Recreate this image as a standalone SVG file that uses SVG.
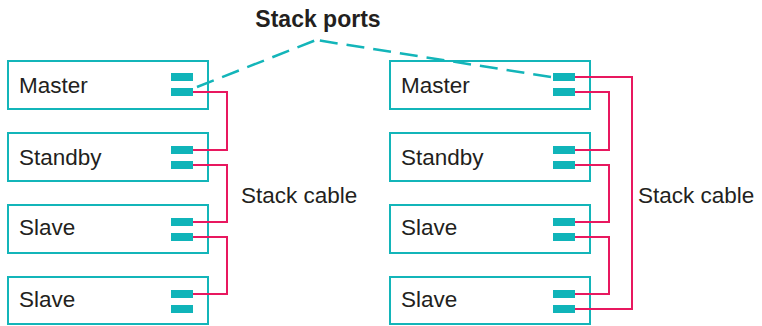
<svg xmlns="http://www.w3.org/2000/svg" width="762" height="326" viewBox="0 0 762 326">
<style>
.box{fill:#fff;stroke:#13b5b9;stroke-width:2}
.port{fill:#10b4b9}
.lbl{font-family:"Liberation Sans",Arial,sans-serif;font-size:22.5px;fill:#231f20}
.title{font-family:"Liberation Sans",Arial,sans-serif;font-size:23px;font-weight:bold;fill:#231f20}
.cable{fill:none;stroke:#e8185f;stroke-width:2}
.dash{fill:none;stroke:#13b5b9;stroke-width:2.5;stroke-dasharray:18 9}
</style>
<rect width="762" height="326" fill="#fff"/>
<g id="left-master"><rect class="box" x="8" y="61" width="200" height="48"/><text class="lbl" x="19" y="93">Master</text><rect class="port" x="171" y="73" width="22" height="8"/><rect class="port" x="171" y="88" width="22" height="8"/></g>
<g id="left-standby"><rect class="box" x="8" y="133" width="200" height="48"/><text class="lbl" x="19" y="165">Standby</text><rect class="port" x="171" y="146" width="22" height="8"/><rect class="port" x="171" y="161" width="22" height="8"/></g>
<g id="left-slave1"><rect class="box" x="8" y="205" width="200" height="48"/><text class="lbl" x="19" y="235">Slave</text><rect class="port" x="171" y="218" width="22" height="8"/><rect class="port" x="171" y="233" width="22" height="8"/></g>
<g id="left-slave2"><rect class="box" x="8" y="277" width="200" height="47"/><text class="lbl" x="19" y="307">Slave</text><rect class="port" x="171" y="290" width="22" height="8"/><rect class="port" x="171" y="305" width="22" height="8"/></g>
<g id="right-master"><rect class="box" x="390" y="61" width="200" height="48"/><text class="lbl" x="401" y="93">Master</text><rect class="port" x="553" y="73" width="22" height="8"/><rect class="port" x="553" y="88" width="22" height="8"/></g>
<g id="right-standby"><rect class="box" x="390" y="133" width="200" height="48"/><text class="lbl" x="401" y="165">Standby</text><rect class="port" x="553" y="146" width="22" height="8"/><rect class="port" x="553" y="161" width="22" height="8"/></g>
<g id="right-slave1"><rect class="box" x="390" y="205" width="200" height="48"/><text class="lbl" x="401" y="235">Slave</text><rect class="port" x="553" y="218" width="22" height="8"/><rect class="port" x="553" y="233" width="22" height="8"/></g>
<g id="right-slave2"><rect class="box" x="390" y="277" width="200" height="47"/><text class="lbl" x="401" y="307">Slave</text><rect class="port" x="553" y="290" width="22" height="8"/><rect class="port" x="553" y="305" width="22" height="8"/></g>
<g id="connectors">
<polyline class="dash" points="197,87 316,40"/>
<polyline class="dash" points="551,77 316,40"/>
<path class="cable" d="M193,92 H227 V150 H193"/>
<path class="cable" d="M193,165 H227 V222 H193"/>
<path class="cable" d="M193,237 H227 V294 H193"/>
<path class="cable" d="M575,92 H609 V150 H575"/>
<path class="cable" d="M575,165 H609 V222 H575"/>
<path class="cable" d="M575,237 H609 V294 H575"/>
<path class="cable" d="M575,77 H632 V309 H575"/>
</g>
<text class="title" x="318" y="27" text-anchor="middle">Stack ports</text>
<text class="lbl" x="241" y="203">Stack cable</text>
<text class="lbl" x="638" y="203">Stack cable</text>
</svg>
